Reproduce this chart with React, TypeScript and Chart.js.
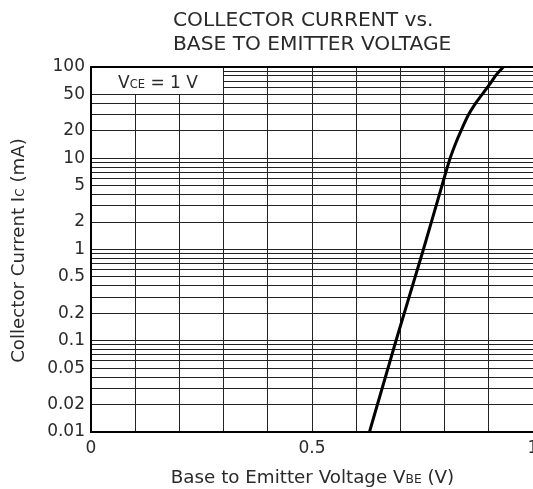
import React, { useEffect, useRef } from 'react';
import { Chart, registerables } from 'chart.js';

Chart.register(...registerables);

// ---- data ----
const vbeVolts = [0.630, 0.690, 0.752, 0.794, 0.8125, 0.826, 0.837, 0.854, 0.870, 0.885, 0.897, 0.907, 0.915, 0.924, 0.933];
const collectorCurrent = [0.01, 0.1, 1, 5, 10, 15, 20, 30, 40, 50, 60, 70, 80, 90, 100];

const yLabelValues = [0.01, 0.02, 0.05, 0.1, 0.2, 0.5, 1, 2, 5, 10, 20, 50, 100];
const xLabelValues = [0, 0.5, 1];
const yDecades = [0.01, 0.1, 1, 10];
const yMultipliers = [1, 2, 3, 4, 5, 6, 7, 8, 9];

const titleLines = ['COLLECTOR CURRENT vs.', 'BASE TO EMITTER VOLTAGE'];
const conditionBoxXMax = 0.3;
const conditionBoxYMin = 50;

const FAMILY = "'DejaVu Sans', 'Liberation Sans', sans-serif";
const WEIGHT = '400';
const TEXT = '#2a2a2a';
const W = 560;
const H = 489;

const yGridValues: number[] = [];
yDecades.forEach((d) => yMultipliers.forEach((m) => yGridValues.push(parseFloat((d * m).toPrecision(6)))));
yGridValues.push(100);

function font(size: number) {
  return `${WEIGHT} ${size}px ${FAMILY}`;
}

type Part = { text: string; size: number };

function drawRich(ctx: CanvasRenderingContext2D, parts: Part[], cx: number, y: number) {
  let total = 0;
  const widths = parts.map((p) => {
    ctx.font = font(p.size);
    const w = ctx.measureText(p.text).width;
    total += w;
    return w;
  });
  let x = cx - total / 2;
  ctx.textAlign = 'left';
  ctx.textBaseline = 'alphabetic';
  parts.forEach((p, i) => {
    ctx.font = font(p.size);
    ctx.fillText(p.text, x, y);
    x += widths[i];
  });
}

const annotate = {
  id: 'annotate',
  beforeDatasetsDraw(chart: any) {
    const { ctx, chartArea, scales } = chart;
    const xs = scales.x;
    const ys = scales.y;
    const { left, top } = chartArea;
    ctx.save();
    // condition box (white, hides grid)
    const bx = Math.round(xs.getPixelForValue(conditionBoxXMax) - 0.5);
    const by = Math.round(ys.getPixelForValue(conditionBoxYMin) - 0.5);
    ctx.fillStyle = '#fff';
    ctx.fillRect(left + 1, top + 1, bx - left - 1, by - top - 1);
    ctx.fillStyle = TEXT;
    drawRich(
      ctx,
      [
        { text: 'V', size: 17 },
        { text: 'CE', size: 11.5 },
        { text: ' = 1 V', size: 17 },
      ],
      (left + bx) / 2 + 1,
      top + 21
    );
    // top frame line
    ctx.strokeStyle = '#000';
    ctx.lineWidth = 2;
    ctx.beginPath();
    ctx.moveTo(left, top);
    ctx.lineTo(chartArea.right, top);
    ctx.stroke();
    ctx.restore();
  },
  afterDraw(chart: any) {
    const { ctx, chartArea } = chart;
    const { top, bottom } = chartArea;
    ctx.save();
    ctx.fillStyle = TEXT;
    ctx.textAlign = 'left';
    ctx.textBaseline = 'alphabetic';
    ctx.font = font(20.2);
    ctx.fillText(titleLines[0], 173, 26);
    ctx.fillText(titleLines[1], 173, 50);
    // x axis title
    drawRich(
      ctx,
      [
        { text: 'Base to Emitter Voltage V', size: 18.3 },
        { text: 'BE', size: 12.2 },
        { text: ' (V)', size: 18.3 },
      ],
      312.5,
      483
    );
    // y axis title
    ctx.translate(24, (top + bottom) / 2 + 1);
    ctx.rotate(-Math.PI / 2);
    drawRich(
      ctx,
      [
        { text: 'Collector Current I', size: 18.2 },
        { text: 'C', size: 12.2 },
        { text: ' (mA)', size: 18.2 },
      ],
      0,
      0
    );
    ctx.restore();
  },
};

function matchLabel(list: number[], v: number) {
  const found = list.find((l) => (l === 0 ? Math.abs(v) < 1e-9 : Math.abs(v - l) / l < 1e-6));
  return found === undefined ? '' : String(found);
}

export default function App() {
  const ref = useRef<HTMLCanvasElement>(null);

  useEffect(() => {
    if (!ref.current) return;
    const chart = new Chart(ref.current, {
      type: 'line',
      data: {
        datasets: [
          {
            data: vbeVolts.map((v, i) => ({ x: v, y: collectorCurrent[i] })),
            borderColor: '#000',
            borderWidth: 3,
            pointRadius: 0,
            fill: false,
            cubicInterpolationMode: 'monotone',
          },
        ],
      },
      options: {
        animation: false,
        responsive: false,
        devicePixelRatio: 1,
        layout: { padding: { top: 67, right: W - 533, left: 0, bottom: 0 } },
        plugins: {
          legend: { display: false },
          tooltip: { enabled: false },
          title: { display: false },
        },
        scales: {
          x: {
            type: 'linear',
            min: 0,
            max: 1,
            ticks: {
              stepSize: 0.1,
              autoSkip: false,
              maxRotation: 0,
              padding: 6,
              color: TEXT,
              font: { family: FAMILY, size: 17, weight: WEIGHT as any },
              callback: (v: any) => matchLabel(xLabelValues, Number(v)),
            },
            grid: { color: '#222', lineWidth: 1, drawTicks: false },
            border: { color: '#000', width: 2 },
            afterFit: (s: any) => {
              s.height = H - 432;
              s.paddingLeft = 0;
              s.paddingRight = 0;
            },
          },
          y: {
            type: 'logarithmic',
            min: 0.01,
            max: 100,
            afterBuildTicks: (s: any) => {
              s.ticks = yGridValues.map((v) => ({ value: v }));
            },
            ticks: {
              autoSkip: false,
              padding: 6,
              color: TEXT,
              font: { family: FAMILY, size: 17, weight: WEIGHT as any },
              callback: (v: any) => matchLabel(yLabelValues, Number(v)),
            },
            grid: { color: '#222', lineWidth: 1, drawTicks: false },
            border: { color: '#000', width: 2 },
            afterFit: (s: any) => {
              s.width = 91;
              s.paddingTop = 0;
              s.paddingBottom = 0;
            },
          },
        },
      },
      plugins: [annotate],
    } as any);
    return () => chart.destroy();
  }, []);

  return (
    <div style={{ position: 'fixed', left: 0, top: 0, width: W, height: H, background: '#fff' }}>
      <canvas ref={ref} width={W} height={H} style={{ display: 'block' }} />
    </div>
  );
}
